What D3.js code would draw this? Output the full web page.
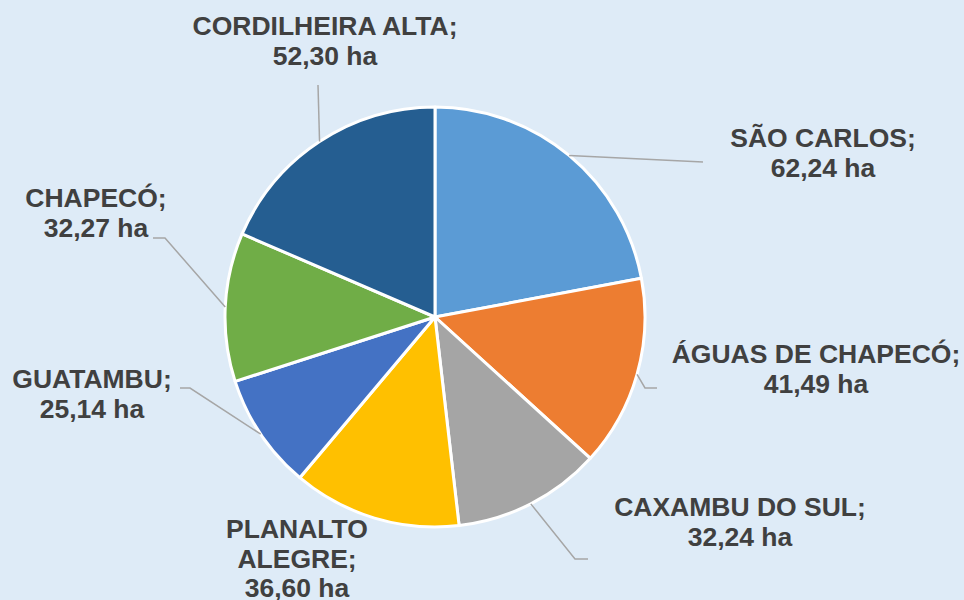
<!DOCTYPE html>
<html>
<head>
<meta charset="utf-8">
<script src="https://cdn.jsdelivr.net/npm/d3@7"></script>
<style>
  html, body { margin: 0; padding: 0; background: #DEEBF7; }
  svg { display: block; }
</style>
</head>
<body>
<svg id="chart" width="964" height="600"></svg>
<script>
// ---- data ----
const categories = ["SÃO CARLOS", "ÁGUAS DE CHAPECÓ", "CAXAMBU DO SUL", "PLANALTO ALEGRE", "GUATAMBU", "CHAPECÓ", "CORDILHEIRA ALTA"];
const values = [62.24, 41.49, 32.24, 36.60, 25.14, 32.27, 52.30];
const unit = "ha";

// ---- styling / layout (not data) ----
const colors = ["#5B9BD5", "#ED7D31", "#A5A5A5", "#FFC000", "#4472C4", "#70AD47", "#255E91"];
// label text lines (line breaks as in the reference)
const labelLines = [
  ["SÃO CARLOS;"], ["ÁGUAS DE CHAPECÓ;"], ["CAXAMBU DO SUL;"], ["PLANALTO", "ALEGRE;"],
  ["GUATAMBU;"], ["CHAPECÓ;"], ["CORDILHEIRA ALTA;"]
];
// label anchor: center x and first baseline y
const labelPos = [[823, 147], [816, 363], [740, 516], [297, 538], [92, 388], [96, 207], [325, 35]];
// leader lines: list of points after the arc point (null = no leader)
const leaderPts = [
  [[703, 162]],
  [[645, 388], [657, 388]],
  [[575, 559], [588, 559]],
  null,
  [[190, 388], [180, 388]],
  [[165, 238], [153, 238]],
  [[318, 85]]
];

const W = 964, H = 600;
const cx = 435, cy = 317, R = 210;
const svg = d3.select("#chart");
svg.append("rect").attr("width", W).attr("height", H).attr("fill", "#DEEBF7");

const fmt = v => d3.format(".2f")(v).replace(".", ",");

const pie = d3.pie().value(d => d).sort(null);
const arcs = pie(values);
const arc = d3.arc().innerRadius(0).outerRadius(R);
const edgeArc = d3.arc().innerRadius(R).outerRadius(R);

const g = svg.append("g").attr("transform", `translate(${cx},${cy})`);
g.selectAll("path.slice").data(arcs).enter().append("path")
  .attr("class", "slice")
  .attr("d", arc)
  .attr("fill", (d, i) => colors[i])
  .attr("stroke", "#FFFFFF")
  .attr("stroke-width", 3)
  .attr("stroke-linejoin", "round");

// leader lines
const line = d3.line();
arcs.forEach((d, i) => {
  if (!leaderPts[i]) return;
  const c = edgeArc.centroid(d);
  const pts = [[cx + c[0], cy + c[1]]].concat(leaderPts[i]);
  svg.append("path")
    .attr("d", line(pts))
    .attr("fill", "none")
    .attr("stroke", "#A6A6A6")
    .attr("stroke-width", 1.5);
});

// labels
arcs.forEach((d, i) => {
  const lines = labelLines[i].concat([fmt(values[i]) + " " + unit]);
  const t = svg.append("text")
    .attr("x", labelPos[i][0])
    .attr("y", labelPos[i][1])
    .attr("text-anchor", "middle")
    .attr("fill", "#404040")
    .style("font-family", "'Liberation Sans', Arial, sans-serif")
    .style("font-weight", "bold")
    .style("font-size", "26.5px");
  lines.forEach((s, k) => {
    t.append("tspan")
      .attr("x", labelPos[i][0])
      .attr("y", labelPos[i][1] + k * 29.5)
      .text(s);
  });
});
</script>
</body>
</html>
